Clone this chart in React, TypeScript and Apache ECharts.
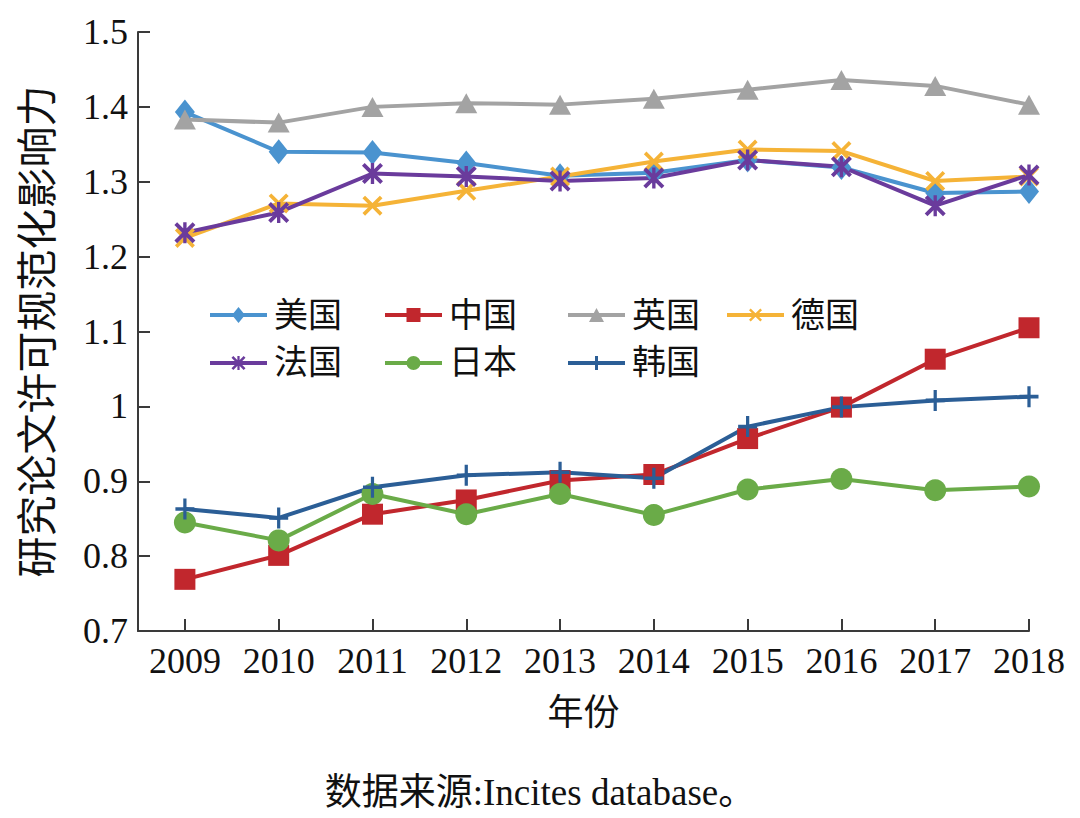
import React, { useEffect, useRef } from "react";
import * as echarts from "echarts";

const years = [2009, 2010, 2011, 2012, 2013, 2014, 2015, 2016, 2017, 2018];
const usa = [1.393, 1.34, 1.339, 1.325, 1.308, 1.312, 1.329, 1.319, 1.285, 1.287];
const china = [0.769, 0.801, 0.856, 0.875, 0.901, 0.909, 0.957, 0.999, 1.063, 1.105];
const uk = [1.383, 1.379, 1.4, 1.405, 1.403, 1.411, 1.423, 1.436, 1.428, 1.403];
const germany = [1.225, 1.271, 1.268, 1.288, 1.307, 1.327, 1.343, 1.341, 1.301, 1.307];
const france = [1.232, 1.259, 1.311, 1.307, 1.301, 1.305, 1.329, 1.32, 1.268, 1.309];
const japan = [0.845, 0.821, 0.883, 0.856, 0.883, 0.855, 0.889, 0.903, 0.888, 0.893];
const korea = [0.863, 0.851, 0.892, 0.908, 0.912, 0.904, 0.973, 0.999, 1.008, 1.013];
const yTicks = [0.7, 0.8, 0.9, 1.0, 1.1, 1.2, 1.3, 1.4, 1.5];

// marker outlines in a 20x20 box
const X_PTS = [
  [2.6, 0], [10, 7.4], [17.4, 0], [20, 2.6], [12.6, 10], [20, 17.4],
  [17.4, 20], [10, 12.6], [2.6, 20], [0, 17.4], [7.4, 10], [0, 2.6],
];
const BAR_PTS = [[8.4, 0], [11.6, 0], [11.6, 20], [8.4, 20]];
const PLUS_PTS = [
  [8.3, 0], [11.7, 0], [11.7, 8.3], [20, 8.3], [20, 11.7], [11.7, 11.7],
  [11.7, 20], [8.3, 20], [8.3, 11.7], [0, 11.7], [0, 8.3], [8.3, 8.3],
];
const poly = (pts: number[][], dx = 0, dy = 0, s = 1) =>
  "M" + pts.map(([x, y]) => `${(x * s + dx).toFixed(2)},${(y * s + dy).toFixed(2)}`).join(" L") + " Z";

const X_PATH = "path://" + poly(X_PTS);
const STAR_PATH = "path://" + poly(X_PTS) + " " + poly(BAR_PTS);
const PLUS_PATH = "path://" + poly(PLUS_PTS);

// legend icons: 57 x 16 box, line through the middle plus marker
const LW = 57;
const LINE = "M0,6 L57,6 L57,10 L0,10 Z";
const lg = (m: string) => "path://" + LINE + " " + m;
const LEG_DIAMOND = lg("M28.5,0 L35,8 L28.5,16 L22,8 Z");
const LEG_RECT = lg("M21.5,1 L35.5,1 L35.5,15 L21.5,15 Z");
const LEG_TRI = lg("M28.5,1 L36,15 L21,15 Z");
const LEG_X = lg(poly(X_PTS, LW / 2 - 6.5, 1.5, 0.65));
const LEG_STAR = lg(poly(X_PTS, LW / 2 - 7, 1, 0.7) + " " + poly(BAR_PTS, LW / 2 - 7, 1, 0.7));
const LEG_CIRCLE = lg("M21.5,8 A7,7 0 1 1 35.5,8 A7,7 0 1 1 21.5,8 Z");
const LEG_PLUS = lg("M27,1 L30,1 L30,15 L27,15 Z");

const SERIF = "'Liberation Serif', 'Noto Sans CJK SC', serif";
const INK = "#111111";

export default function App() {
  const ref = useRef<HTMLDivElement>(null);
  useEffect(() => {
    if (!ref.current) return;
    const chart = echarts.init(ref.current, null, { renderer: "svg" });
    const mk = (
      name: string,
      values: number[],
      color: string,
      symbol: string,
      symbolSize: number | number[]
    ) => ({
      name,
      type: "line",
      data: years.map((y, i) => [y, values[i]]),
      symbol,
      symbolSize,
      showAllSymbol: true,
      lineStyle: { color, width: 4 },
      itemStyle: { color },
      emphasis: { disabled: true },
    });
    const legendCommon = {
      orient: "vertical",
      itemWidth: 57,
      itemHeight: 16,
      itemGap: 14,
      symbolKeepAspect: true,
      textStyle: { fontFamily: SERIF, fontSize: 34, color: INK, padding: [0, 0, 0, 2] },
      selectedMode: false,
      top: 293,
    };
    chart.setOption({
      animation: false,
      backgroundColor: "#ffffff",
      grid: { left: 138, right: 51, top: 32, bottom: 187, containLabel: false },
      title: {
        text: "数据来源:Incites database。",
        left: "center",
        top: 769,
        textStyle: { fontFamily: SERIF, fontSize: 37, fontWeight: "normal", color: INK },
      },
      legend: [
        {
          ...legendCommon,
          left: 205,
          data: [
            { name: "美国", icon: LEG_DIAMOND },
            { name: "法国", icon: LEG_STAR },
          ],
        },
        {
          ...legendCommon,
          left: 380,
          data: [
            { name: "中国", icon: LEG_RECT },
            { name: "日本", icon: LEG_CIRCLE },
          ],
        },
        {
          ...legendCommon,
          left: 563,
          data: [
            { name: "英国", icon: LEG_TRI },
            { name: "韩国", icon: LEG_PLUS },
          ],
        },
        { ...legendCommon, left: 722, data: [{ name: "德国", icon: LEG_X }] },
      ],
      xAxis: {
        type: "value",
        min: 2008.5,
        max: 2018,
        name: "年份",
        nameLocation: "middle",
        nameGap: 64,
        nameTextStyle: { fontFamily: SERIF, fontSize: 36, color: INK },
        splitLine: { show: false },
        axisLine: { show: true, lineStyle: { color: "#3a3a3a", width: 2 } },
        axisTick: {
          show: true,
          inside: true,
          length: 12,
          customValues: years,
          lineStyle: { color: "#3a3a3a", width: 2 },
        },
        axisLabel: {
          customValues: years,
          formatter: (v: number) => String(v),
          fontFamily: SERIF,
          fontSize: 36,
          color: INK,
          margin: 12,
        },
      },
      yAxis: {
        type: "value",
        min: 0.7,
        max: 1.5,
        interval: 0.1,
        name: "研究论文许可规范化影响力",
        nameLocation: "middle",
        nameRotate: 90,
        nameGap: 80,
        nameTextStyle: { fontFamily: SERIF, fontSize: 41, color: INK },
        splitLine: { show: false },
        axisLine: { show: true, lineStyle: { color: "#3a3a3a", width: 2 } },
        axisTick: { show: true, inside: true, length: 12, lineStyle: { color: "#3a3a3a", width: 2 } },
        axisLabel: {
          fontFamily: SERIF,
          fontSize: 36,
          color: INK,
          margin: 10,
          formatter: (v: number) => {
            const t = yTicks.find((k) => Math.abs(k - v) < 1e-6);
            const n = t === undefined ? v : t;
            return Math.abs(n - 1) < 1e-6 ? "1" : n.toFixed(1);
          },
        },
      },
      series: [
        mk("美国", usa, "#4a93cf", "diamond", [20, 25]),
        mk("中国", china, "#c1272d", "rect", 21),
        mk("英国", uk, "#a3a3a3", "triangle", [22, 20]),
        mk("德国", germany, "#f5b337", X_PATH, 20),
        mk("法国", france, "#6a3b9c", STAR_PATH, 21),
        mk("日本", japan, "#6aab48", "circle", 22),
        mk("韩国", korea, "#2b5e96", PLUS_PATH, [19, 21]),
      ],
    });
    return () => chart.dispose();
  }, []);
  return (
    <div
      ref={ref}
      style={{ position: "absolute", left: 0, top: 0, width: 1080, height: 818, background: "#fff" }}
    />
  );
}
